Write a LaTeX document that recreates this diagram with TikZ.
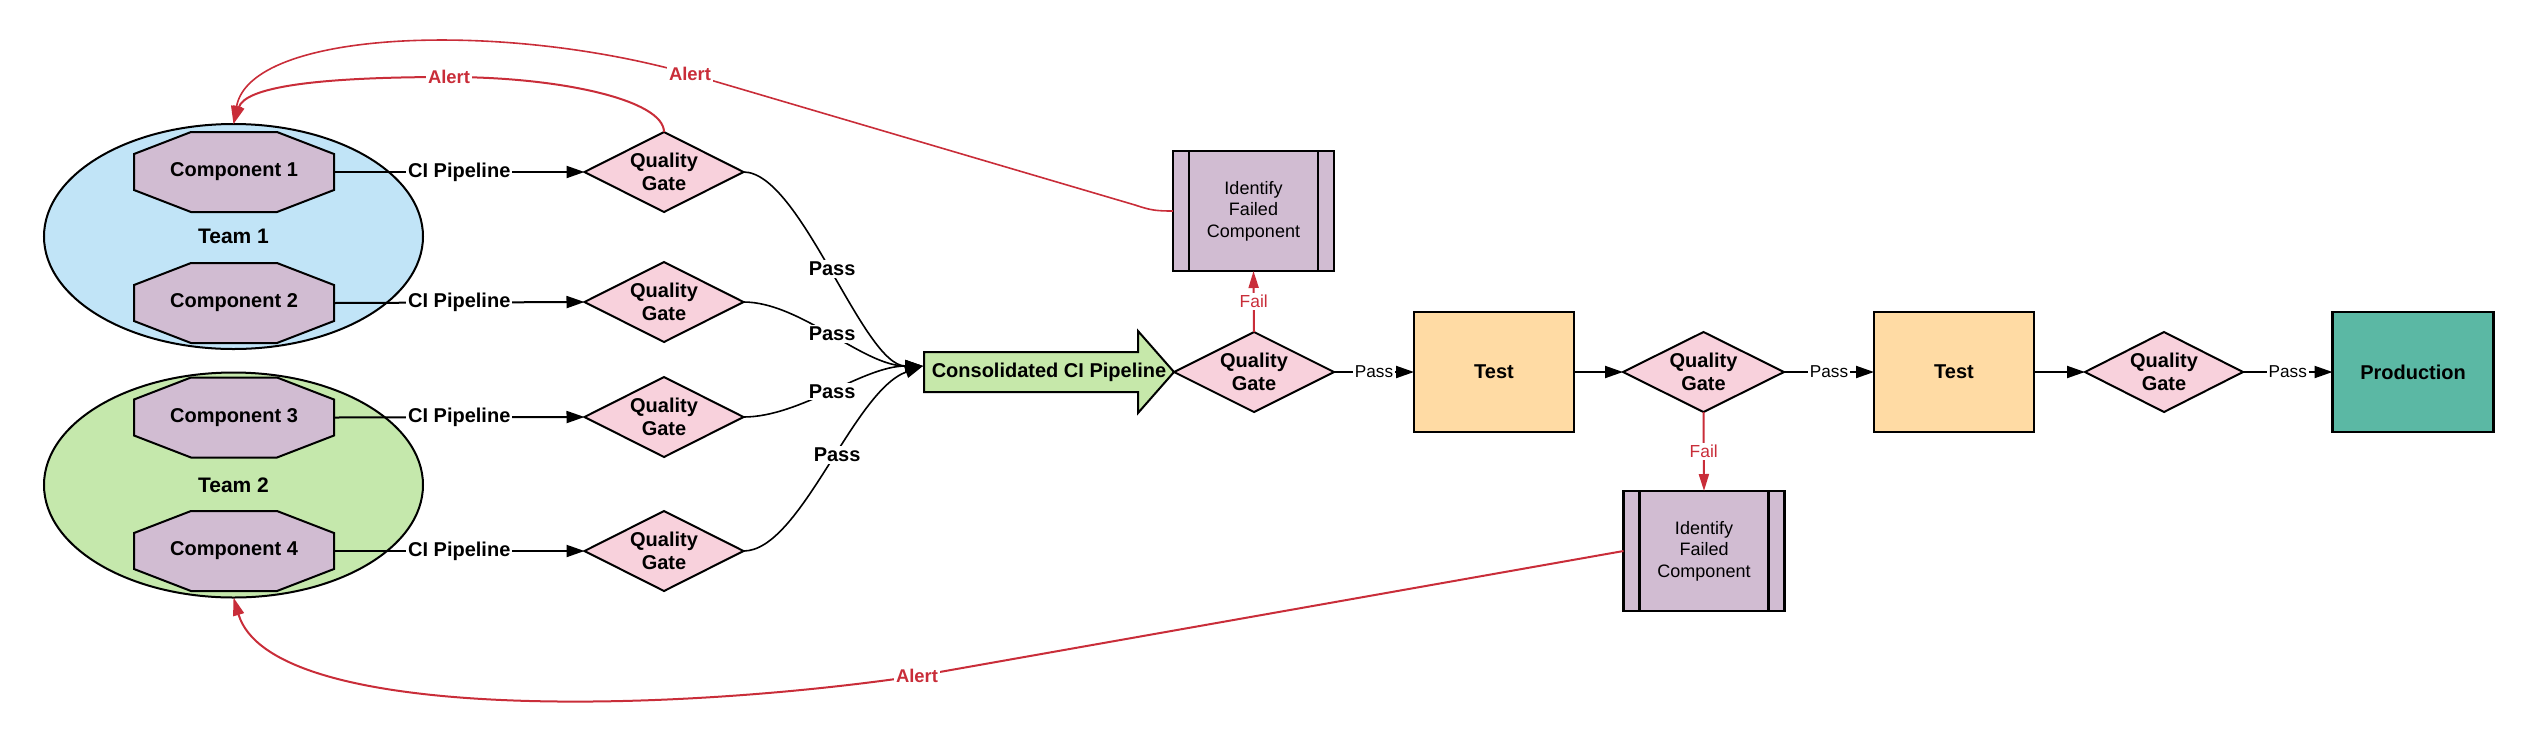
\documentclass[tikz,border=0pt]{standalone}
\usepackage{fontspec}
\setmainfont{Liberation Sans}
\usetikzlibrary{shapes.geometric,arrows.meta,calc}
\pgfdeclarelayer{bg}
\pgfsetlayers{bg,main}
\definecolor{teamblue}{HTML}{C1E4F7}
\definecolor{teamgreen}{HTML}{C5E8AC}
\definecolor{comppurple}{HTML}{D1BCD2}
\definecolor{gatepink}{HTML}{F8D1DC}
\definecolor{testorange}{HTML}{FFDBA4}
\definecolor{prodteal}{HTML}{5BB8A4}
\definecolor{consgreen}{HTML}{C6E8AA}
\definecolor{alertred}{HTML}{C92D39}
\begin{document}
\begin{tikzpicture}[x=0.5pt,y=-0.5pt,
  bf/.style={font=\bfseries\fontsize{10}{12}\selectfont},
  team/.style={ellipse,draw,line width=1pt,inner sep=0,outer sep=0,minimum width=189.5pt,minimum height=112.5pt,font=\bfseries\fontsize{10.5}{12}\selectfont},
  comptext/.style={inner sep=0,outer sep=0,minimum width=100pt,minimum height=40pt,bf},
  octa/.style={draw,line width=1pt,fill=comppurple},
  gate/.style={diamond,draw,line width=1pt,fill=gatepink,inner sep=0,outer sep=0,minimum width=79.5pt,minimum height=40pt,aspect=2,align=center,font=\bfseries\fontsize{10}{11.5}\selectfont},
  idbox/.style={rectangle,draw,line width=1.25pt,fill=comppurple,inner sep=0,outer sep=0,minimum width=80.5pt,minimum height=60pt,align=center,font=\fontsize{9}{10.8}\selectfont},
  stage/.style={rectangle,draw,line width=1.4pt,inner sep=0,outer sep=0,minimum width=80pt,minimum height=60pt,bf},
  flow/.style={line width=1pt,-{Triangle[length=9pt,width=6pt]}},
  passflow/.style={line width=0.8pt,-{Triangle[length=9pt,width=6pt]}},
  cilbl/.style={fill=white,inner sep=1pt,bf},
  passlbl/.style={fill=white,inner sep=1pt,bf},
  passlbl2/.style={fill=white,inner sep=1pt,font=\fontsize{8.6}{10}\selectfont},
  faillbl/.style={fill=white,inner sep=1pt,text=alertred,font=\fontsize{8.7}{10}\selectfont},
  alertlbl/.style={fill=white,inner sep=1pt,text=alertred,font=\bfseries\fontsize{9.2}{11}\selectfont},
  alertline/.style={draw=alertred,line width=1pt,-{Triangle[length=9pt,width=5.5pt]}},
  alertthin/.style={draw=alertred,line width=0.8pt,-{Triangle[length=9pt,width=5.5pt]}},
  failflow/.style={draw=alertred,line width=1pt,-{Triangle[length=8.5pt,width=5pt]}}
]
\useasboundingbox (0,0) rectangle (2529,751);

% components (text)
\node[comptext] (comp1) at (234,172) {Component 1};
\node[comptext] (comp2) at (234,303) {Component 2};
\node[comptext] (comp3) at (234,417.5) {Component 3};
\node[comptext] (comp4) at (234,551) {Component 4};

% quality gates
\node[gate] (qg1) at (664,172) {Quality\\Gate};
\node[gate] (qg2) at (664,302) {Quality\\Gate};
\node[gate] (qg3) at (664,417) {Quality\\Gate};
\node[gate] (qg4) at (664,551) {Quality\\Gate};

% consolidated pipeline
\node[inner sep=0,outer sep=0,minimum width=125pt,minimum height=41pt,bf] (cons) at (1049,372) {Consolidated CI Pipeline};
\coordinate (merge) at ($(cons.west)+(-1,-6)$);

\node[gate,minimum width=80pt] (qg5) at (1254,372) {Quality\\Gate};
\node[idbox] (id1) at (1253.5,211) {Identify\\Failed\\Component};
\node[stage,fill=testorange] (test1) at (1494,372) {Test};
\node[gate,minimum width=80.5pt] (qg6) at (1703.5,372) {Quality\\Gate};
\node[idbox] (id2) at (1704,551) {Identify\\Failed\\Component};
\node[stage,fill=testorange] (test2) at (1954,372) {Test};
\node[gate,minimum width=79pt] (qg7) at (2164,372) {Quality\\Gate};
\node[stage,fill=prodteal,minimum width=80.5pt] (prod) at (2413,372) {Production};

\foreach \b in {id1,id2}{
  \draw[line width=1.25pt] ($(\b.north west)+(16,0)$) -- ($(\b.south west)+(16,0)$);
  \draw[line width=1.25pt] ($(\b.north east)+(-16,0)$) -- ($(\b.south east)+(-16,0)$);
}

\begin{pgfonlayer}{bg}
  \node[team,fill=teamblue] (team1) at (233.5,236.5) {Team 1};
  \node[team,fill=teamgreen] (team2) at (233.5,485) {Team 2};
  \foreach \c in {comp1,comp2,comp3,comp4}{
    \draw[octa] ($(\c.north west)+(57,0)$) -- ($(\c.north east)+(-57,0)$)
      -- ($(\c.north east)+(0,22)$) -- ($(\c.south east)+(0,-22)$)
      -- ($(\c.south east)+(-57,0)$) -- ($(\c.south west)+(57,0)$)
      -- ($(\c.south west)+(0,-22)$) -- ($(\c.north west)+(0,22)$) -- cycle;
  }
  \draw[line width=1pt,fill=consgreen] ($(cons.west)+(0,-20)$) -- ($(cons.east)+(-36,-20)$)
    -- ($(cons.north east)+(-36,0)$) -- (cons.east) -- ($(cons.south east)+(-36,0)$)
    -- ($(cons.east)+(-36,20)$) -- ($(cons.west)+(0,20)$) -- cycle;
\end{pgfonlayer}

% CI pipelines
\draw[flow] (comp1.east) -- node[cilbl]{CI Pipeline} (qg1.west);
\draw[flow] (comp2.east) -- node[cilbl]{CI Pipeline} (qg2.west);
\draw[flow] (comp3.east) -- node[cilbl]{CI Pipeline} (qg3.west);
\draw[flow] (comp4.east) -- node[cilbl]{CI Pipeline} (qg4.west);

% Pass curves
\draw[passflow] (qg1.east) .. controls ($(qg1.east)+(57,0)$) and ($(merge)+(-60,0)$) .. node[passlbl]{Pass} (merge);
\draw[passflow] (qg2.east) .. controls ($(qg2.east)+(57,0)$) and ($(merge)+(-60,0)$) .. node[passlbl]{Pass} (merge);
\draw[passflow] (qg3.east) .. controls ($(qg3.east)+(57,0)$) and ($(merge)+(-60,0)$) .. node[passlbl]{Pass} (merge);
\draw[passflow] (qg4.east) .. controls ($(qg4.east)+(57,0)$) and ($(merge)+(-70,25)$) .. node[passlbl,pos=0.55]{Pass} (merge);

% main flow
\draw[flow] (qg5.east) -- node[passlbl2]{Pass} (test1.west);
\draw[flow] (test1.east) -- (qg6.west);
\draw[flow] (qg6.east) -- node[passlbl2]{Pass} (test2.west);
\draw[flow] (test2.east) -- (qg7.west);
\draw[flow] (qg7.east) -- node[passlbl2]{Pass} (prod.west);

% fail
\draw[failflow] (qg5.north) -- node[faillbl]{Fail} (id1.south);
\draw[failflow] (qg6.south) -- node[faillbl]{Fail} (id2.north);

% alerts
\draw[alertline] (qg1.north) .. controls (664,100) and (560,77) .. (449,77) node[alertlbl]{Alert}
  .. controls (310,77) and (245,88) .. (team1.north);
\draw[alertthin] (id1.west) .. controls (1155,211) and (1150,210) .. (1135,205) -- (690,74) node[alertlbl]{Alert}
  .. controls (500,20) and (250,30) .. (team1.north);
\draw[alertline] (id2.west) -- (917,676) node[alertlbl]{Alert}
  .. controls (650,715) and (270,720) .. (team2.south);
\end{tikzpicture}
\end{document}
